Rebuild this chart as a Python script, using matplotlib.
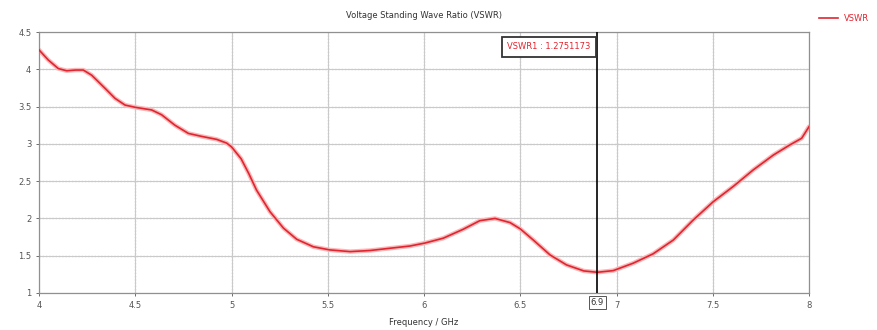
import numpy as np
import matplotlib
matplotlib.use('Agg')
import matplotlib.pyplot as plt

# VSWR curve
freq = [4.0, 4.048, 4.1, 4.144, 4.19, 4.23, 4.274, 4.343, 4.395, 4.447, 4.5, 4.585, 4.637,
        4.706, 4.776, 4.845, 4.923, 4.975, 5.0, 5.05, 5.09, 5.13, 5.2, 5.27, 5.339, 5.425,
        5.51, 5.616, 5.72, 5.823, 5.927, 6.005, 6.1, 6.204, 6.29, 6.369, 6.447, 6.5, 6.568,
        6.655, 6.74, 6.83, 6.9, 6.983, 7.087, 7.19, 7.295, 7.399, 7.503, 7.607, 7.71, 7.815,
        7.9, 7.962, 8.0]
vswr = [4.26, 4.125, 4.01, 3.98, 3.99, 3.99, 3.92, 3.745, 3.61, 3.52, 3.49, 3.455, 3.39,
        3.25, 3.14, 3.10, 3.06, 3.01, 2.96, 2.8, 2.6, 2.38, 2.09, 1.87, 1.72, 1.62,
        1.578, 1.555, 1.57, 1.60, 1.63, 1.67, 1.735, 1.855, 1.97, 2.0, 1.944, 1.86, 1.71,
        1.51, 1.377, 1.296, 1.278, 1.30, 1.40, 1.525, 1.71, 1.98, 2.225, 2.43, 2.65, 2.85,
        2.985, 3.075, 3.23]
marker_x = 6.9
marker_label = 'VSWR1 : 1.2751173'
xticks = [4, 4.5, 5, 5.5, 6, 6.5, 7, 7.5, 8]
yticks = [1, 1.5, 2, 2.5, 3, 3.5, 4, 4.5]

red = '#e02530'
fig = plt.figure(figsize=(8.77, 3.3), dpi=100)
ax = fig.add_axes([39/877, 1 - 293/330, (809-39)/877, (293-32)/330])

ax.set_xlim(4, 8)
ax.set_ylim(1, 4.5)
ax.set_xticks(xticks)
ax.set_yticks(yticks)
ax.set_xticklabels(['%g' % t for t in xticks])
ax.set_yticklabels(['%g' % t for t in yticks])
ax.tick_params(labelsize=6, colors='#555555', length=2, width=0.6)
for s in ax.spines.values():
    s.set_color('#909090')
    s.set_linewidth(0.9)

# grid: light solid with dotted overlay
ax.grid(True, color='#cacaca', linewidth=0.8, linestyle='-')
for t in xticks[1:-1]:
    ax.axvline(t, color='#6f6f6f', linewidth=0.9, linestyle=(0, (1, 1.6)), alpha=0.6, zorder=1)
for t in yticks[1:-1]:
    ax.axhline(t, color='#6f6f6f', linewidth=0.9, linestyle=(0, (1, 1.6)), alpha=0.6, zorder=1)

# curve with soft halo
ax.plot(freq, vswr, color='#f9b8b8', linewidth=3.2, solid_capstyle='round',
        solid_joinstyle='round', zorder=2)
line, = ax.plot(freq, vswr, color=red, linewidth=1.2, label='VSWR',
                solid_joinstyle='round', zorder=3)

# marker
ax.axvline(marker_x, color='black', linewidth=1.2, zorder=4)
ax.text(marker_x - 0.035, 4.3, marker_label, color=red, fontsize=6, ha='right', va='center',
        bbox=dict(boxstyle='square,pad=0.65', facecolor='white', edgecolor='#333333', linewidth=1.3),
        zorder=5)
ax.text(marker_x, 0.87, '%g' % marker_x, fontsize=6, color='#333333', ha='center', va='center',
        bbox=dict(boxstyle='square,pad=0.25', facecolor='white', edgecolor='#555555', linewidth=0.7),
        zorder=5, clip_on=False)

ax.set_title('Voltage Standing Wave Ratio (VSWR)', fontsize=6, color='#333333', pad=10)
ax.set_xlabel('Frequency / GHz', fontsize=6, color='#333333', labelpad=6)

fig.legend(handles=[line], loc='upper right', bbox_to_anchor=(1.0, 0.98), fontsize=6,
           frameon=False, handlelength=2.2, labelcolor=red)

fig.savefig('out.png', dpi=100)
